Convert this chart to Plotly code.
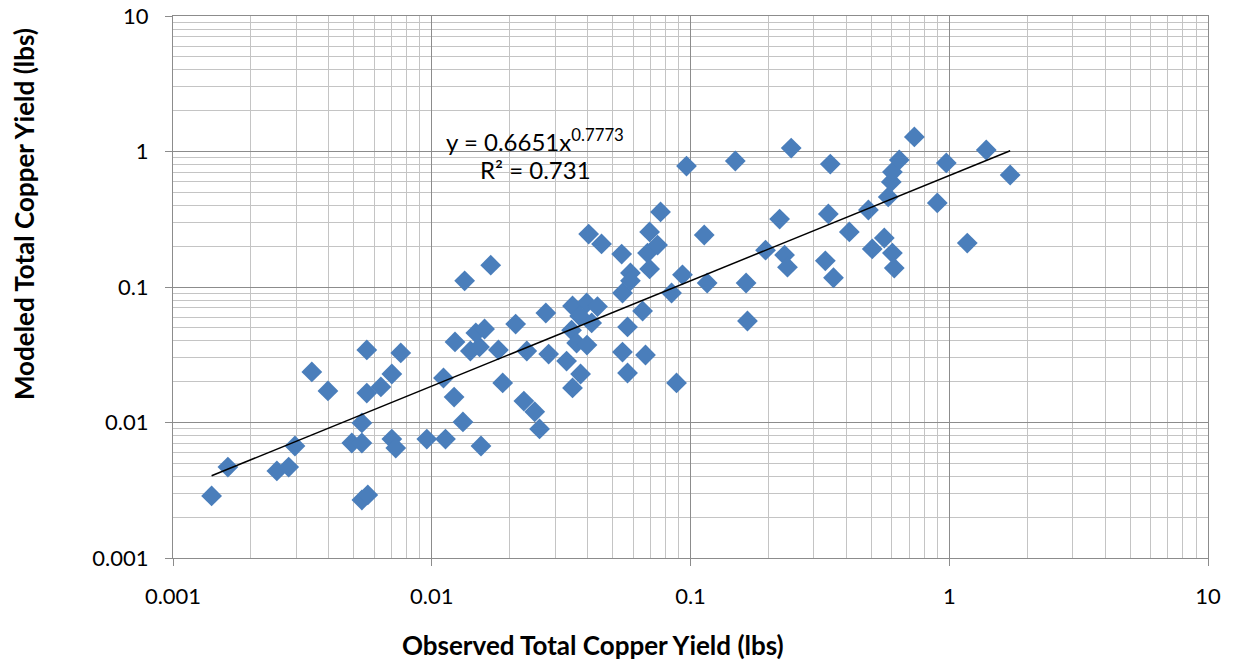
import plotly.graph_objects as go
import numpy as np

# Observed total copper yield (lbs)
observed = [
    0.00141, 0.00163, 0.00252, 0.0028, 0.00296, 0.00344, 0.00397, 0.00491, 0.00537, 0.00537,
    0.00537, 0.00566, 0.00561, 0.00561, 0.00636, 0.00701, 0.00759, 0.00701, 0.00726, 0.00957,
    0.0111, 0.0113, 0.0122, 0.0123, 0.0132, 0.0134, 0.0141, 0.0153, 0.0148, 0.016,
    0.0155, 0.0169, 0.0181, 0.0188, 0.0211, 0.0227, 0.0233, 0.025, 0.0261, 0.0276,
    0.0283, 0.0332, 0.0347, 0.035, 0.0397, 0.0437, 0.0373, 0.0415, 0.0363, 0.0398,
    0.0376, 0.035, 0.0404, 0.0453, 0.0542, 0.0546, 0.0546, 0.0571, 0.0571, 0.0586,
    0.0586, 0.0653, 0.067, 0.0695, 0.0682, 0.0746, 0.0695, 0.0766, 0.0845, 0.0883,
    0.0931, 0.0965, 0.113, 0.116, 0.149, 0.164, 0.166, 0.195, 0.221, 0.231,
    0.237, 0.245, 0.332, 0.341, 0.347, 0.357, 0.411, 0.487, 0.504, 0.561,
    0.581, 0.597, 0.603, 0.603, 0.613, 0.641, 0.733, 0.899, 0.974, 1.174,
    1.39, 1.72,
]

# Modeled total copper yield (lbs)
modeled = [
    0.00287, 0.00469, 0.00439, 0.00469, 0.00671, 0.0236, 0.0171, 0.00706, 0.00706, 0.00992,
    0.00268, 0.00292, 0.0343, 0.0165, 0.0183, 0.0228, 0.0326, 0.00755, 0.00648, 0.00755,
    0.0213, 0.00755, 0.0154, 0.0393, 0.0101, 0.111, 0.0337, 0.0361, 0.0458, 0.049,
    0.00671, 0.145, 0.0343, 0.0196, 0.0533, 0.0144, 0.0337, 0.012, 0.00896, 0.0643,
    0.032, 0.0284, 0.048, 0.0724, 0.0762, 0.0717, 0.0611, 0.0543, 0.0386, 0.0373,
    0.0228, 0.018, 0.246, 0.208, 0.175, 0.0903, 0.0331, 0.0507, 0.0232, 0.127,
    0.111, 0.0665, 0.0315, 0.255, 0.178, 0.204, 0.136, 0.358, 0.0903, 0.0196,
    0.123, 0.781, 0.242, 0.107, 0.851, 0.107, 0.0561, 0.187, 0.317, 0.172,
    0.14, 1.06, 0.156, 0.346, 0.808, 0.117, 0.255, 0.37, 0.191, 0.23,
    0.462, 0.596, 0.706, 0.178, 0.138, 0.866, 1.28, 0.417, 0.823, 0.211,
    1.026, 0.671,
]

# Power trendline  y = a * x^b
trend_a = 0.6651
trend_b = 0.7773
trend_r2 = 0.731

x_tick_vals = [0.001, 0.01, 0.1, 1, 10]
x_tick_text = ["0.001", "0.01", "0.1", "1", "10"]
y_tick_vals = [0.001, 0.01, 0.1, 1, 10]
y_tick_text = ["0.001", "0.01", "0.1", "1", "10"]

x_title = "Observed Total Copper Yield (lbs)"
y_title = "Modeled Total Copper Yield (lbs)"

FONT = "Lato"

trend_x = np.logspace(np.log10(min(observed)), np.log10(max(observed)), 100)
trend_y = trend_a * trend_x ** trend_b

fig = go.Figure()
fig.add_trace(go.Scatter(
    x=observed, y=modeled, mode="markers",
    marker=dict(symbol="diamond", size=16, color="#4A7EBB", line=dict(width=0)),
    showlegend=False,
))
fig.add_trace(go.Scatter(
    x=trend_x, y=trend_y, mode="lines",
    line=dict(color="black", width=1.5),
    showlegend=False,
))

axis_common = dict(
    type="log",
    range=[-3, 1],
    automargin=False,
    showgrid=True,
    gridcolor="#8C8C8C",
    gridwidth=1,
    showline=True,
    linecolor="#8C8C8C",
    linewidth=1,
    mirror=True,
    ticks="outside",
    ticklen=7,
    tickcolor="#8C8C8C",
    zeroline=False,
    ticklabeloverflow="allow",
    tickfont=dict(family=FONT, size=22, color="black"),
    minor=dict(dtick="D1", showgrid=True, gridcolor="#C4C4C4", gridwidth=1, ticks=""),
)

fig.update_xaxes(**axis_common, tickvals=x_tick_vals, ticktext=x_tick_text, ticklabelstandoff=12)
fig.update_yaxes(**axis_common, tickvals=y_tick_vals, ticktext=y_tick_text, ticklabelstandoff=12)

fig.add_annotation(
    text=f"y = {trend_a}x<sup>{trend_b}</sup>", xref="paper", yref="paper",
    x=0.350, y=0.771, showarrow=False, font=dict(family=FONT, size=24, color="black"),
    xanchor="center", yanchor="middle",
)
fig.add_annotation(
    text=f"R² = {trend_r2}", xref="paper", yref="paper",
    x=0.350, y=0.716, showarrow=False, font=dict(family=FONT, size=24, color="black"),
    xanchor="center", yanchor="middle",
)
fig.add_annotation(
    text=f"<b>{x_title}</b>", xref="paper", yref="paper",
    x=0.406, y=-0.1605, showarrow=False, font=dict(family=FONT, size=26, color="black"),
    xanchor="center", yanchor="middle",
)
fig.add_annotation(
    text=f"<b>{y_title}</b>", xref="paper", yref="paper",
    x=-0.1437, y=0.635, showarrow=False, textangle=-90,
    font=dict(family=FONT, size=26, color="black"),
    xanchor="center", yanchor="middle",
)

fig.update_layout(
    width=1235, height=664,
    margin=dict(l=165, r=35, t=8, b=114, autoexpand=False),
    paper_bgcolor="white", plot_bgcolor="white",
    font=dict(family=FONT),
)

fig.write_html("out.html")
